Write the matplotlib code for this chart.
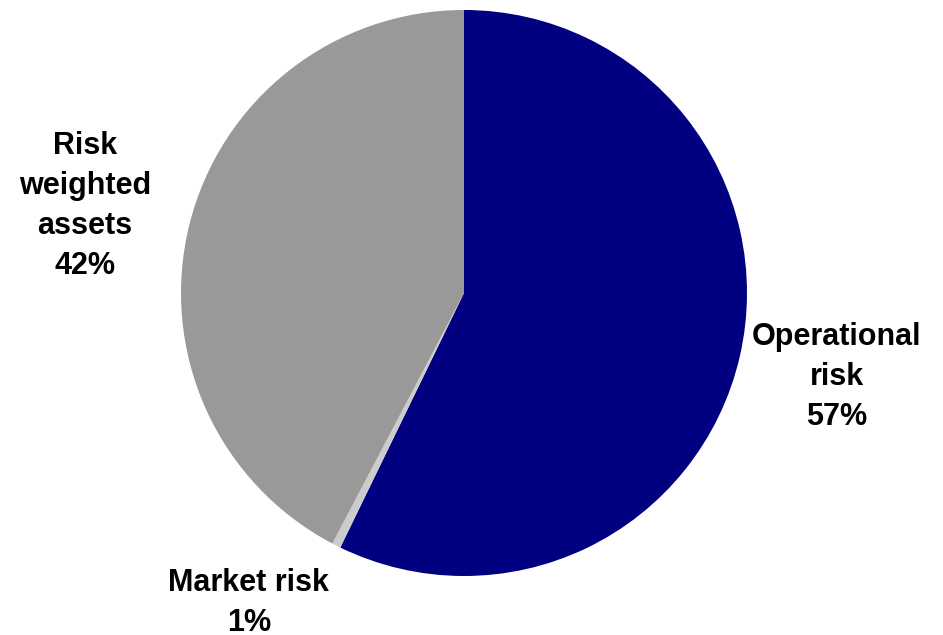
import matplotlib
matplotlib.use("Agg")
import matplotlib.pyplot as plt

# capital requirement split
categories = ["Operational\nrisk", "Market risk", "Risk\nweighted\nassets"]
shares = [57.2, 0.5, 42.3]
share_labels = ["57%", "1%", "42%"]
colors = ["#000080", "#CCCCCC", "#999999"]

plt.rcParams["font.family"] = ["Liberation Sans", "DejaVu Sans"]

fig = plt.figure(figsize=(9.43, 6.35), dpi=100)
W, H = 943, 635
# pie centred at (464, 293) px with radius 283 px
ax = fig.add_axes([181 / W, (H - 576) / H, 566 / W, 566 / H])

ax.pie(shares, colors=colors, startangle=90, counterclock=False,
       radius=1.0, wedgeprops=dict(linewidth=0))
ax.set_xlim(-1, 1)
ax.set_ylim(-1, 1)
ax.set_aspect("equal")
ax.axis("off")

# label positions in radius units
label_pos = [(1.318, -0.297), (-0.760, -1.095), (-1.339, 0.307)]
for name, pct, (x, y) in zip(categories, share_labels, label_pos):
    ax.text(x, y, name + "\n" + pct, ha="center", va="center",
            fontsize=22, fontweight="bold", linespacing=1.44,
            color="black")

fig.savefig("out.png", dpi=100)
